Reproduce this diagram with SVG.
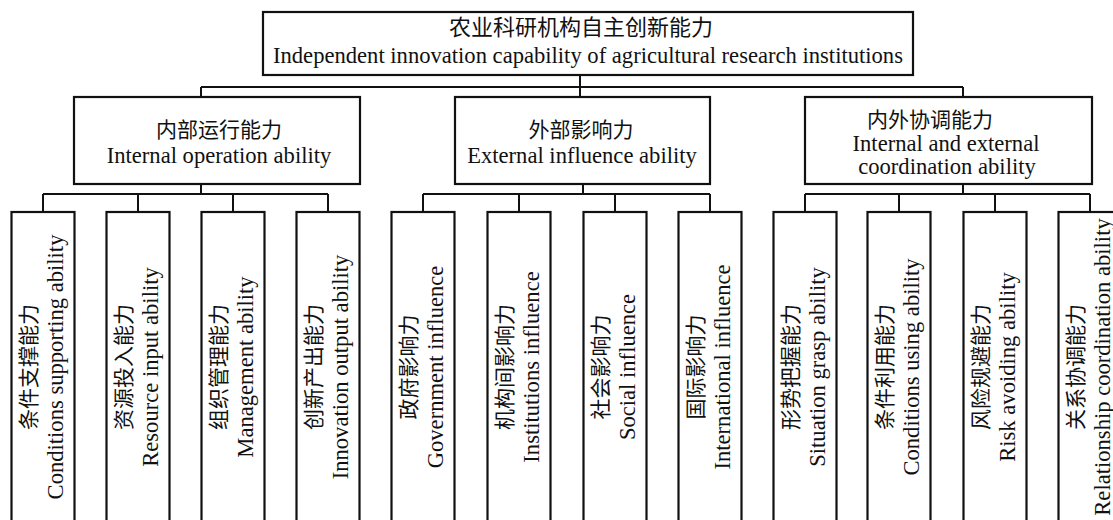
<svg xmlns="http://www.w3.org/2000/svg" width="1113" height="520" viewBox="0 0 1113 520">
  <style>
    .box { fill: #fff; stroke: #111; stroke-width: 2.2; }
    .ln { fill: none; stroke: #111; stroke-width: 2; }
    text { font-family: "Liberation Serif", "Noto Sans CJK SC", serif; fill: #111; }
    .zh { font-size: 21px; }
    .zt { font-size: 22px; }
    .en { font-size: 22.6px; }
    .m { text-anchor: middle; }
  </style>
  <rect width="1113" height="520" fill="#fff"/>

  <!-- tree connectors -->
  <g id="connectors" class="ln">
    <path d="M580 75V87 M201 87H963 M201 87V97 M580 87V97 M963 87V97"/>
    <path d="M201 184V194 M43 194H328 M43 194V212 M138 194V212 M233 194V212 M328 194V212"/>
    <path d="M583 184V194 M423 194H710 M423 194V212 M519 194V212 M615 194V212 M710 194V212"/>
    <path d="M963 184V194 M805 194H1090 M805 194V212 M899 194V212 M995 194V212 M1090 194V212"/>
  </g>

  <!-- root -->
  <g id="root">
    <rect class="box" x="263" y="12" width="650" height="63"/>
    <text class="zt m" x="581" y="35">农业科研机构自主创新能力</text>
    <text class="en" x="273" y="63">Independent innovation capability of agricultural research institutions</text>
  </g>

  <!-- second level -->
  <g id="internal">
    <rect class="box" x="74" y="97" width="286" height="87"/>
    <text class="zh m" x="219" y="137">内部运行能力</text>
    <text class="en m" x="219" y="163">Internal operation ability</text>
  </g>
  <g id="external">
    <rect class="box" x="455" y="97" width="255" height="87"/>
    <text class="zh m" x="581" y="137">外部影响力</text>
    <text class="en m" x="582" y="163">External influence ability</text>
  </g>
  <g id="coordination">
    <rect class="box" x="805" y="97" width="287" height="87"/>
    <text class="zh m" x="930" y="127">内外协调能力</text>
    <text class="en m" x="946" y="151">Internal and external</text>
    <text class="en m" x="947" y="174">coordination ability</text>
  </g>

  <!-- third level: internal operation -->
  <g id="conditions-supporting">
    <rect class="box" x="11.5" y="212" width="63" height="330"/>
    <text class="zh m" transform="translate(35.5,367) rotate(-90)">条件支撑能力</text>
    <text class="en m" transform="translate(62.5,367) rotate(-90)">Conditions supporting ability</text>
  </g>
  <g id="resource-input">
    <rect class="box" x="106.5" y="212" width="63" height="330"/>
    <text class="zh m" transform="translate(130.5,367) rotate(-90)">资源投入能力</text>
    <text class="en m" transform="translate(157.5,367) rotate(-90)">Resource input ability</text>
  </g>
  <g id="management">
    <rect class="box" x="201.5" y="212" width="63" height="330"/>
    <text class="zh m" transform="translate(225.5,367) rotate(-90)">组织管理能力</text>
    <text class="en m" transform="translate(252.5,367) rotate(-90)">Management ability</text>
  </g>
  <g id="innovation-output">
    <rect class="box" x="296.5" y="212" width="63" height="330"/>
    <text class="zh m" transform="translate(320.5,367) rotate(-90)">创新产出能力</text>
    <text class="en m" transform="translate(347.5,367) rotate(-90)">Innovation output ability</text>
  </g>

  <!-- third level: external influence -->
  <g id="government">
    <rect class="box" x="391.5" y="212" width="63" height="330"/>
    <text class="zh m" transform="translate(415.5,367) rotate(-90)">政府影响力</text>
    <text class="en m" transform="translate(442.5,367) rotate(-90)">Government influence</text>
  </g>
  <g id="institutions">
    <rect class="box" x="487.5" y="212" width="63" height="330"/>
    <text class="zh m" transform="translate(511.5,367) rotate(-90)">机构间影响力</text>
    <text class="en m" transform="translate(538.5,367) rotate(-90)">Institutions influence</text>
  </g>
  <g id="social">
    <rect class="box" x="583.5" y="212" width="63" height="330"/>
    <text class="zh m" transform="translate(607.5,367) rotate(-90)">社会影响力</text>
    <text class="en m" transform="translate(634.5,367) rotate(-90)">Social influence</text>
  </g>
  <g id="international">
    <rect class="box" x="678.5" y="212" width="63" height="330"/>
    <text class="zh m" transform="translate(702.5,367) rotate(-90)">国际影响力</text>
    <text class="en m" transform="translate(729.5,367) rotate(-90)">International influence</text>
  </g>

  <!-- third level: internal and external coordination -->
  <g id="situation-grasp">
    <rect class="box" x="773.5" y="212" width="63" height="330"/>
    <text class="zh m" transform="translate(797.5,367) rotate(-90)">形势把握能力</text>
    <text class="en m" transform="translate(824.5,367) rotate(-90)">Situation grasp ability</text>
  </g>
  <g id="conditions-using">
    <rect class="box" x="867.5" y="212" width="63" height="330"/>
    <text class="zh m" transform="translate(891.5,367) rotate(-90)">条件利用能力</text>
    <text class="en m" transform="translate(918.5,367) rotate(-90)">Conditions using ability</text>
  </g>
  <g id="risk-avoiding">
    <rect class="box" x="963.5" y="212" width="63" height="330"/>
    <text class="zh m" transform="translate(987.5,367) rotate(-90)">风险规避能力</text>
    <text class="en m" transform="translate(1014.5,367) rotate(-90)">Risk avoiding ability</text>
  </g>
  <g id="relationship">
    <rect class="box" x="1058.5" y="212" width="63" height="330"/>
    <text class="zh m" transform="translate(1082.5,367) rotate(-90)">关系协调能力</text>
    <text class="en m" transform="translate(1109.5,367) rotate(-90)">Relationship coordination ability</text>
  </g>
</svg>
